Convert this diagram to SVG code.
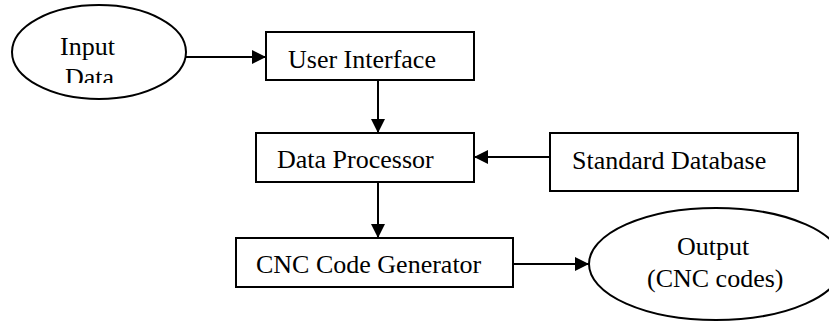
<svg xmlns="http://www.w3.org/2000/svg" width="829" height="322" viewBox="0 0 829 322">
<style>
.shape{fill:#fff;stroke:#000;stroke-width:2}
.lbl{font-family:"Liberation Serif","Times New Roman",serif;font-size:26px;fill:#000}
.conn{stroke:#000;stroke-width:2;fill:none}
</style>
<defs>
<marker id="arr" markerWidth="14" markerHeight="14" refX="14" refY="7" orient="auto" markerUnits="userSpaceOnUse">
<path d="M0,0 L14,7 L0,14 Z" fill="#000"/>
</marker>
<clipPath id="clipData"><rect x="0" y="0" width="200" height="83"/></clipPath>
</defs>
<rect width="829" height="322" fill="#fff"/>
<g id="input">
<ellipse class="shape" cx="99" cy="52" rx="87" ry="47"/>
<text class="lbl" x="60" y="55">Input</text>
<text class="lbl" x="65" y="86" clip-path="url(#clipData)">Data</text>
</g>
<g id="ui">
<rect class="shape" x="266" y="32" width="208" height="48"/>
<text class="lbl" x="288" y="68">User Interface</text>
</g>
<g id="dp">
<rect class="shape" x="256" y="133" width="218" height="49"/>
<text class="lbl" x="277" y="168">Data Processor</text>
</g>
<g id="sd">
<rect class="shape" x="550" y="133" width="248" height="58"/>
<text class="lbl" x="572" y="169">Standard Database</text>
</g>
<g id="cnc">
<rect class="shape" x="236" y="238" width="277" height="49"/>
<text class="lbl" x="256" y="273">CNC Code Generator</text>
</g>
<g id="output">
<ellipse class="shape" cx="716" cy="264" rx="127" ry="56"/>
<text class="lbl" x="677" y="255">Output</text>
<text class="lbl" x="647" y="287">(CNC codes)</text>
</g>
<g id="connectors">
<line class="conn" x1="186" y1="57" x2="266" y2="57" marker-end="url(#arr)"/>
<line class="conn" x1="378" y1="80" x2="378" y2="133" marker-end="url(#arr)"/>
<line class="conn" x1="550" y1="157" x2="474" y2="157" marker-end="url(#arr)"/>
<line class="conn" x1="378" y1="182" x2="378" y2="238" marker-end="url(#arr)"/>
<line class="conn" x1="513" y1="264" x2="589" y2="264" marker-end="url(#arr)"/>
</g>
</svg>
